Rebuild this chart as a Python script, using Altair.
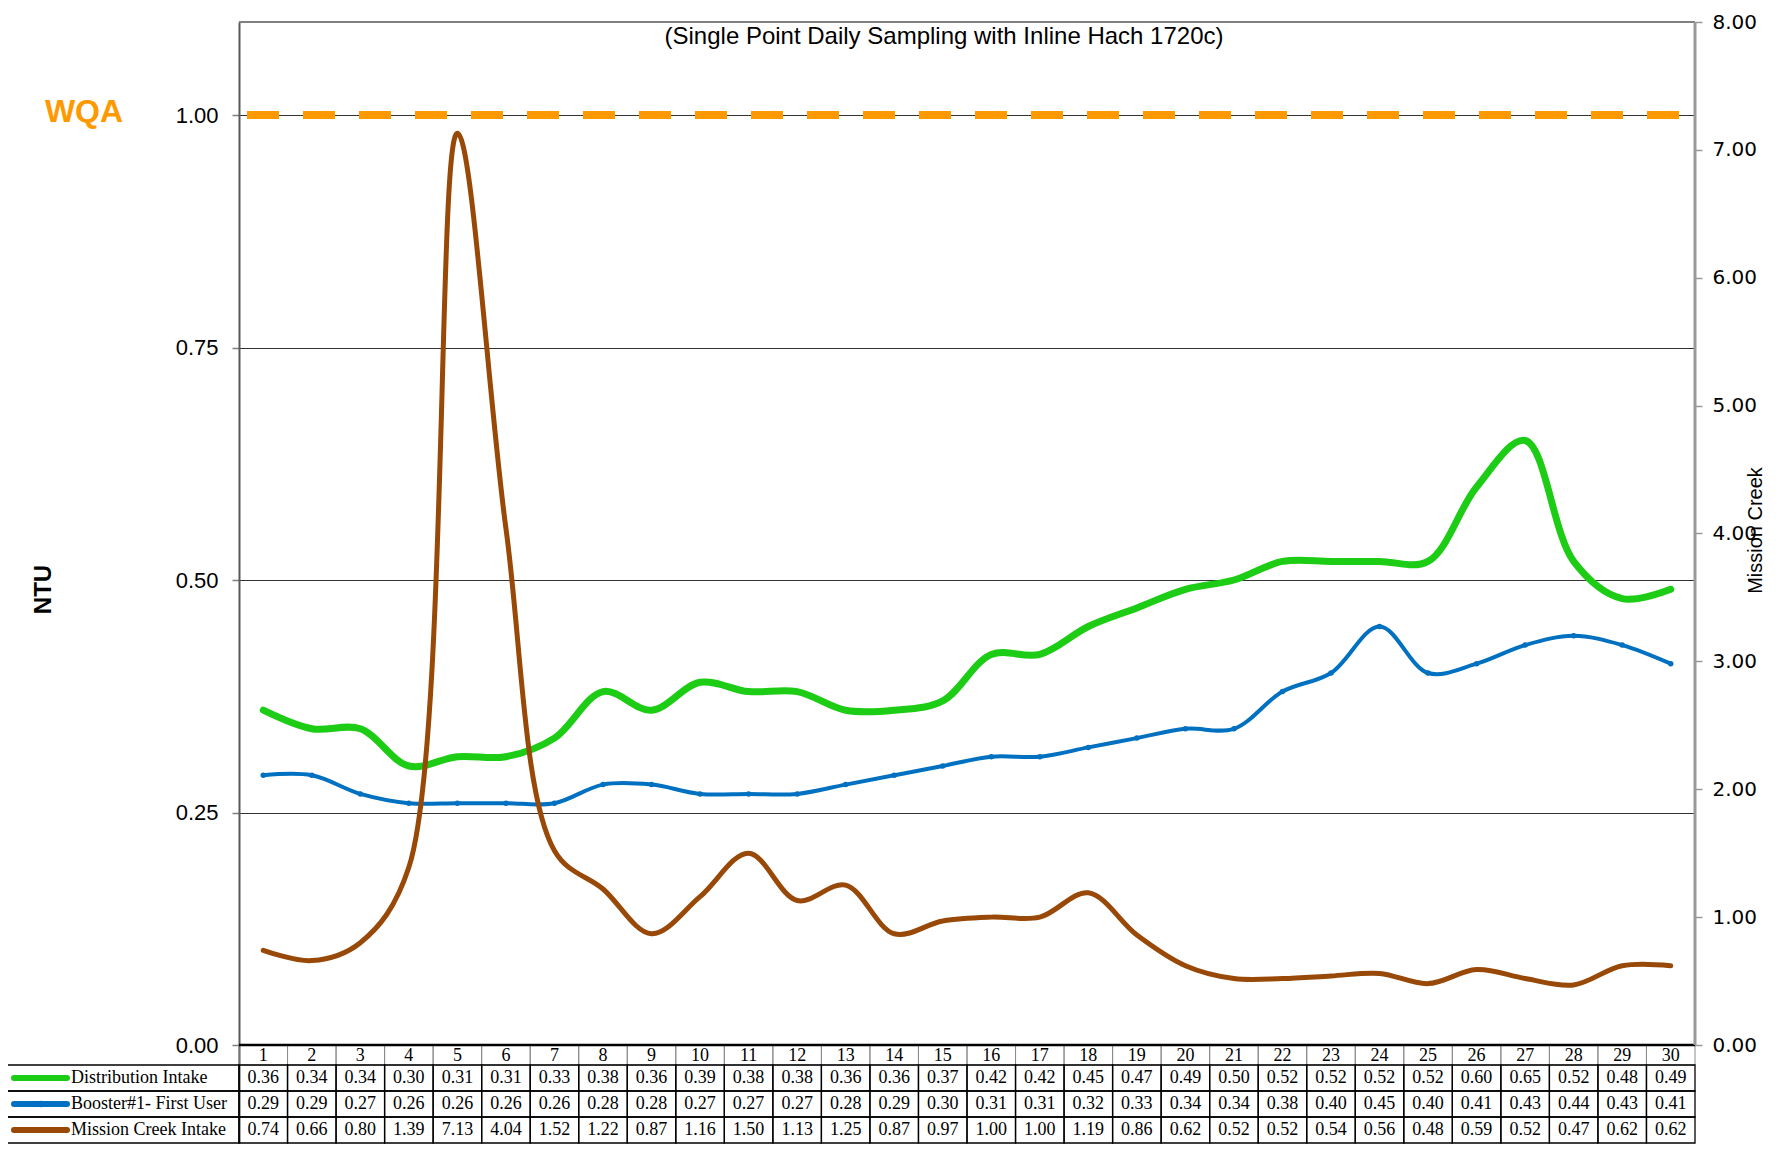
import altair as alt
import pandas as pd

# ---------------- data ----------------
days = list(range(1, 31))
distribution = [0.36, 0.34, 0.34, 0.30, 0.31, 0.31, 0.33, 0.38, 0.36, 0.39,
                0.38, 0.38, 0.36, 0.36, 0.37, 0.42, 0.42, 0.45, 0.47, 0.49,
                0.50, 0.52, 0.52, 0.52, 0.52, 0.60, 0.65, 0.52, 0.48, 0.49]
booster = [0.29, 0.29, 0.27, 0.26, 0.26, 0.26, 0.26, 0.28, 0.28, 0.27,
           0.27, 0.27, 0.28, 0.29, 0.30, 0.31, 0.31, 0.32, 0.33, 0.34,
           0.34, 0.38, 0.40, 0.45, 0.40, 0.41, 0.43, 0.44, 0.43, 0.41]
mission = [0.74, 0.66, 0.80, 1.39, 7.13, 4.04, 1.52, 1.22, 0.87, 1.16,
           1.50, 1.13, 1.25, 0.87, 0.97, 1.00, 1.00, 1.19, 0.86, 0.62,
           0.52, 0.52, 0.54, 0.56, 0.48, 0.59, 0.52, 0.47, 0.62, 0.62]
series_names = ["Distribution Intake", "Booster#1- First User", "Mission Creek Intake"]
series_colors = ["#1DCC14", "#0070C0", "#984807"]
wqa_limit = [1.0]
left_ticks = [0.0, 0.25, 0.5, 0.75, 1.0]
right_ticks = [0, 1, 2, 3, 4, 5, 6, 7, 8]
chart_title = "(Single Point Daily Sampling with Inline Hach 1720c)"

# ---------------- layout ----------------
W = 1456
PLOT_H = 1023
HDR_H = 20
ROW_H = 26
TABLE_H = HDR_H + 3 * ROW_H
H = PLOT_H + TABLE_H
LEFT_MAX = 1.1
RIGHT_MAX = 8.0
left_min = -LEFT_MAX * TABLE_H / PLOT_H
right_min = -RIGHT_MAX * TABLE_H / PLOT_H

rows = []
for name, vals in zip(series_names, [distribution, booster, mission]):
    for d, v in zip(days, vals):
        rows.append({"day": d, "series": name, "value": v})
df = pd.DataFrame(rows)
df_days = pd.DataFrame({"day": days})
df_series = pd.DataFrame({"series": series_names})


def xs():
    return alt.Scale(domain=[0.5, 30.5], nice=False, zero=False)


def ys_left():
    return alt.Scale(domain=[left_min, LEFT_MAX], nice=False, zero=False)


def ys_right():
    return alt.Scale(domain=[right_min, RIGHT_MAX], nice=False, zero=False)


def row_scale():
    return alt.Scale(type="band", domain=series_names, range=[PLOT_H + HDR_H, H],
                     paddingInner=0, paddingOuter=0)


def color_enc():
    return alt.Color("series:N", scale=alt.Scale(domain=series_names, range=series_colors),
                     legend=None)


left_axis = alt.Axis(title="NTU", values=left_ticks, format=".2f", grid=True,
                     gridColor="#333333", gridWidth=1, domainColor="#595959", domainWidth=2,
                     tickColor="#7f7f7f", tickSize=7, tickWidth=1.5, labelPadding=14,
                     labelFont="Liberation Sans", labelFontSize=22, labelColor="black",
                     titleFont="Liberation Sans", titleFontSize=24, titleFontWeight="bold",
                     titleColor="black", titleAngle=270, titleBaseline="bottom",
                     titleX=-184, titleY=567)
right_axis = alt.Axis(orient="right", title="Mission Creek", values=right_ticks, format=".2f",
                      grid=False, domain=False, tickColor="#999999", tickSize=7, tickWidth=1.5,
                      labelPadding=10, labelFont="DejaVu Sans", labelFontSize=20,
                      labelColor="black", titleFont="Liberation Sans", titleFontSize=20,
                      titleFontWeight="normal", titleColor="black", titleAngle=270,
                      titleBaseline="top", titleX=50, titleY=508)

base = alt.Chart(df)

# ---------------- plot area ----------------
top_border = alt.Chart(pd.DataFrame({"top": [LEFT_MAX]})).mark_rule(
    color="#808080", strokeWidth=2).encode(
    y=alt.Y("top:Q", scale=ys_left(), axis=None),
    x=alt.value(0), x2=alt.value(W))

zero_line = alt.Chart(pd.DataFrame({"zero": [0.0]})).mark_rule(
    color="black", strokeWidth=2.5).encode(
    y=alt.Y("zero:Q", scale=ys_left(), axis=None),
    x=alt.value(0), x2=alt.value(W))

green = base.transform_filter(alt.datum.series == series_names[0]).mark_line(
    interpolate="catmull-rom", strokeWidth=7, strokeCap="round").encode(
    x=alt.X("day:Q", scale=xs(), axis=None),
    y=alt.Y("value:Q", scale=ys_left(), axis=left_axis),
    color=color_enc())

blue = base.transform_filter(alt.datum.series == series_names[1]).mark_line(
    interpolate="catmull-rom", strokeWidth=4, strokeCap="round").encode(
    x=alt.X("day:Q", scale=xs(), axis=None),
    y=alt.Y("value:Q", scale=ys_left(), axis=None),
    color=color_enc())

blue_pts = base.transform_filter(alt.datum.series == series_names[1]).mark_circle(
    size=30, opacity=1).encode(
    x=alt.X("day:Q", scale=xs(), axis=None),
    y=alt.Y("value:Q", scale=ys_left(), axis=None),
    color=color_enc())

brown = base.transform_filter(alt.datum.series == series_names[2]).mark_line(
    interpolate="catmull-rom", strokeWidth=5, strokeCap="round").encode(
    x=alt.X("day:Q", scale=xs(), axis=None),
    y=alt.Y("value:Q", scale=ys_right(), axis=right_axis),
    color=color_enc())

right_line = alt.Chart(pd.DataFrame({"lo": [0.0], "hi": [RIGHT_MAX]})).mark_rule(
    color="#9a9a9a", strokeWidth=3).encode(
    y=alt.Y("lo:Q", scale=ys_right(), axis=None), y2="hi:Q", x=alt.value(W))

wqa_df = pd.DataFrame({"wqa": wqa_limit})
wqa_line = alt.Chart(wqa_df).mark_rule(
    color="#FF9900", strokeWidth=8, strokeDash=[32, 24], strokeDashOffset=48).encode(
    y=alt.Y("wqa:Q", scale=ys_left(), axis=None),
    x=alt.value(0), x2=alt.value(W - 10))

wqa_text = alt.Chart(wqa_df).mark_text(
    text="WQA", color="#FF9900", font="Liberation Sans", fontSize=32, fontWeight="bold",
    align="center", baseline="middle", dy=-3).encode(
    y=alt.Y("wqa:Q", scale=ys_left(), axis=None),
    x=alt.value(-155))

title_mark = alt.Chart(pd.DataFrame({"t": [chart_title]})).mark_text(
    font="Liberation Sans", fontSize=24, align="center", baseline="middle",
    color="black").encode(
    text="t:N", x=alt.value(705), y=alt.value(15))

# ---------------- data table ----------------
hdr_cells = alt.Chart(df_days).transform_calculate(
    x0="datum.day - 0.5", x1="datum.day + 0.5").mark_rect(
    fill="transparent", stroke="#8c8c8c", strokeWidth=1).encode(
    x=alt.X("x0:Q", scale=xs(), axis=None), x2="x1:Q",
    y=alt.value(PLOT_H), y2=alt.value(PLOT_H + HDR_H))

hdr_text = alt.Chart(df_days).mark_text(
    font="Liberation Serif", fontSize=18, color="black", baseline="middle", dy=1).encode(
    x=alt.X("day:Q", scale=xs(), axis=None),
    y=alt.value(PLOT_H + HDR_H / 2),
    text="day:N")

cells = base.transform_calculate(
    x0="datum.day - 0.5", x1="datum.day + 0.5").mark_rect(
    fill="transparent", stroke="black", strokeWidth=1.3).encode(
    x=alt.X("x0:Q", scale=xs(), axis=None), x2="x1:Q",
    y=alt.Y("series:N", scale=row_scale(), axis=None))

cell_text = base.mark_text(font="Liberation Serif", fontSize=18, color="black",
                           baseline="middle").encode(
    x=alt.X("day:Q", scale=xs(), axis=None),
    y=alt.Y("series:N", scale=row_scale(), axis=None),
    text=alt.Text("value:Q", format=".2f"))

leg_cells = alt.Chart(df_series).mark_rect(
    fill="transparent", stroke="black", strokeWidth=1.3).encode(
    x=alt.value(-233), x2=alt.value(0),
    y=alt.Y("series:N", scale=row_scale(), axis=None))

swatch = alt.Chart(df_series).mark_rule(strokeWidth=6, strokeCap="round").encode(
    x=alt.value(-225), x2=alt.value(-172),
    y=alt.Y("series:N", scale=row_scale(), axis=None),
    color=color_enc())

swatch_dot = alt.Chart(df_series).transform_filter(
    alt.datum.series == series_names[1]).mark_circle(size=40, opacity=1).encode(
    x=alt.value(-198),
    y=alt.Y("series:N", scale=row_scale(), axis=None),
    color=color_enc())

leg_text = alt.Chart(df_series).mark_text(
    align="left", baseline="middle", font="Liberation Serif", fontSize=18,
    color="black").encode(
    x=alt.value(-168),
    y=alt.Y("series:N", scale=row_scale(), axis=None),
    text="series:N")

chart = alt.layer(
    top_border, hdr_cells, hdr_text, cells, cell_text, leg_cells, swatch, swatch_dot, leg_text,
    green, blue, blue_pts, zero_line, wqa_line, wqa_text, title_mark, brown, right_line,
).resolve_scale(y="independent").properties(
    width=W, height=H,
    autosize=alt.AutoSizeParams(type="none"),
    padding={"left": 231, "top": 14, "right": 70, "bottom": 2},
).configure_view(stroke="transparent")

chart.save("out.html", embed_options={"renderer": "svg", "actions": False})
